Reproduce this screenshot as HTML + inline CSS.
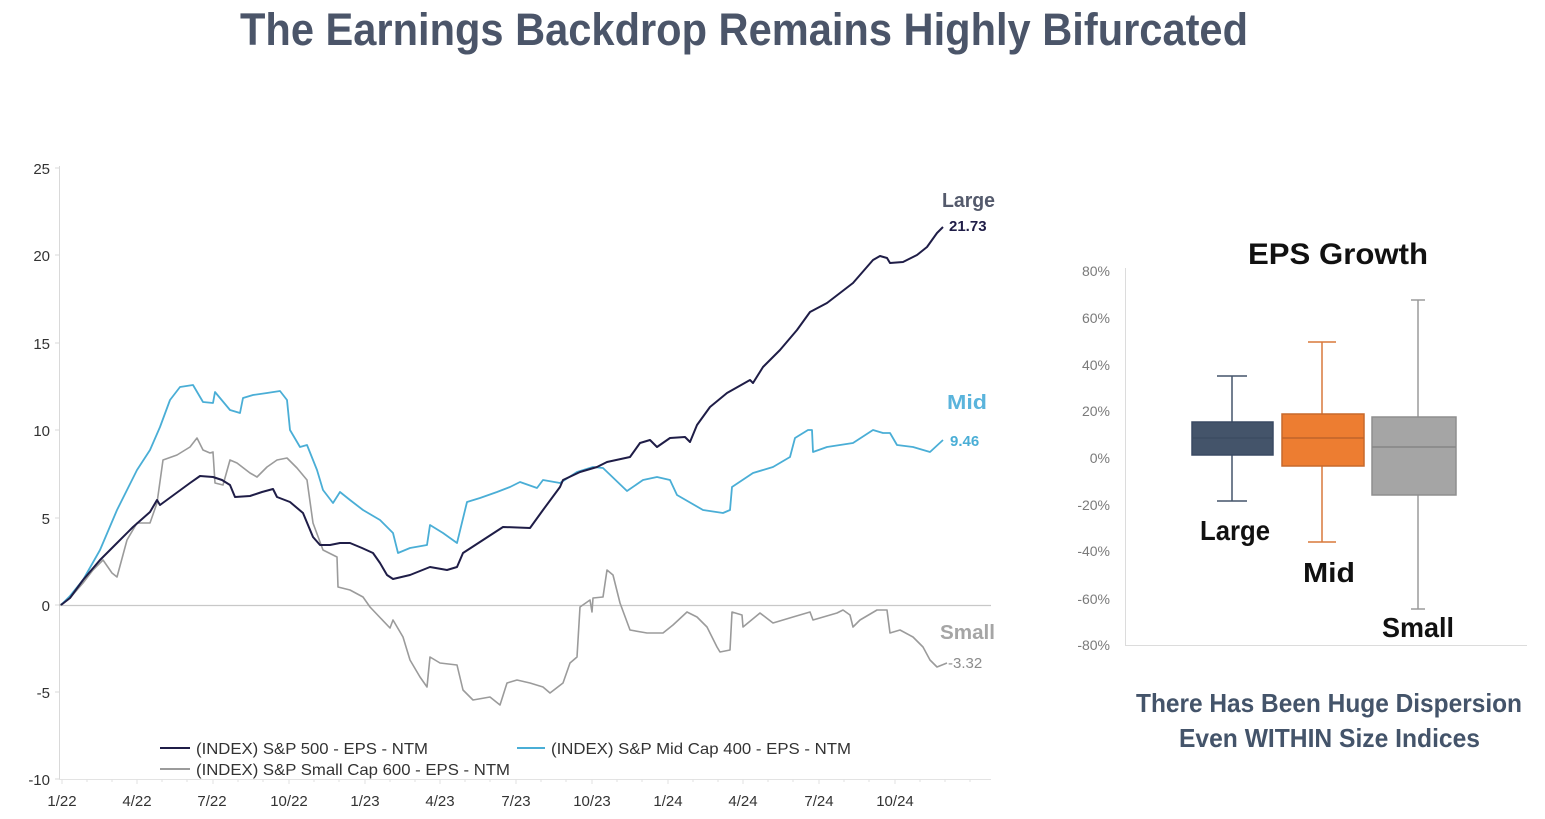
<!DOCTYPE html>
<html>
<head>
<meta charset="utf-8">
<style>
  html,body{margin:0;padding:0;background:#fff;}
  svg{display:block;}
  text{font-family:"Liberation Sans",Arial,sans-serif;}
</style>
</head>
<body>
<svg width="1545" height="819" viewBox="0 0 1545 819" xmlns="http://www.w3.org/2000/svg">
  <rect width="1545" height="819" fill="#fff"/>
  <!-- Title -->
  <text x="240" y="45" font-size="45" font-weight="bold" fill="#4b5569" textLength="1008" lengthAdjust="spacingAndGlyphs">The Earnings Backdrop Remains Highly Bifurcated</text>

  <!-- LEFT CHART -->
  <g>
    <line x1="59.5" y1="166" x2="59.5" y2="779" stroke="#d9d9d9" stroke-width="1"/>
    <line x1="59" y1="779.5" x2="991" y2="779.5" stroke="#e3e3e3" stroke-width="1"/>
    <line x1="59" y1="605.5" x2="991" y2="605.5" stroke="#c8c8c8" stroke-width="1.2"/>
    <!-- y tick marks -->
    <g stroke="#d9d9d9" stroke-width="1">
      <line x1="55" y1="168" x2="59" y2="168"/><line x1="55" y1="255" x2="59" y2="255"/>
      <line x1="55" y1="343" x2="59" y2="343"/><line x1="55" y1="430" x2="59" y2="430"/>
      <line x1="55" y1="518" x2="59" y2="518"/><line x1="55" y1="605" x2="59" y2="605"/>
      <line x1="55" y1="692" x2="59" y2="692"/><line x1="55" y1="779" x2="59" y2="779"/>
    </g>
    <!-- x tick marks -->
    <g stroke="#e0e0e0" stroke-width="1">
      <line x1="62" y1="779" x2="62" y2="784"/><line x1="87" y1="779" x2="87" y2="782"/><line x1="112" y1="779" x2="112" y2="782"/>
      <line x1="137" y1="779" x2="137" y2="784"/><line x1="162" y1="779" x2="162" y2="782"/><line x1="187" y1="779" x2="187" y2="782"/>
      <line x1="213" y1="779" x2="213" y2="784"/><line x1="238" y1="779" x2="238" y2="782"/><line x1="263" y1="779" x2="263" y2="782"/>
      <line x1="289" y1="779" x2="289" y2="784"/><line x1="314" y1="779" x2="314" y2="782"/><line x1="339" y1="779" x2="339" y2="782"/>
      <line x1="365" y1="779" x2="365" y2="784"/><line x1="390" y1="779" x2="390" y2="782"/><line x1="415" y1="779" x2="415" y2="782"/>
      <line x1="440" y1="779" x2="440" y2="784"/><line x1="465" y1="779" x2="465" y2="782"/><line x1="490" y1="779" x2="490" y2="782"/>
      <line x1="516" y1="779" x2="516" y2="784"/><line x1="541" y1="779" x2="541" y2="782"/><line x1="566" y1="779" x2="566" y2="782"/>
      <line x1="592" y1="779" x2="592" y2="784"/><line x1="617" y1="779" x2="617" y2="782"/><line x1="642" y1="779" x2="642" y2="782"/>
      <line x1="668" y1="779" x2="668" y2="784"/><line x1="693" y1="779" x2="693" y2="782"/><line x1="718" y1="779" x2="718" y2="782"/>
      <line x1="743" y1="779" x2="743" y2="784"/><line x1="768" y1="779" x2="768" y2="782"/><line x1="793" y1="779" x2="793" y2="782"/>
      <line x1="819" y1="779" x2="819" y2="784"/><line x1="844" y1="779" x2="844" y2="782"/><line x1="869" y1="779" x2="869" y2="782"/>
      <line x1="895" y1="779" x2="895" y2="784"/><line x1="920" y1="779" x2="920" y2="782"/><line x1="945" y1="779" x2="945" y2="782"/>
      <line x1="970" y1="779" x2="970" y2="782"/>
    </g>
    <!-- y labels -->
    <g font-size="15" fill="#333" text-anchor="end">
      <text x="50" y="174">25</text>
      <text x="50" y="261">20</text>
      <text x="50" y="349">15</text>
      <text x="50" y="436">10</text>
      <text x="50" y="524">5</text>
      <text x="50" y="611">0</text>
      <text x="50" y="698">-5</text>
      <text x="50" y="785">-10</text>
    </g>
    <!-- x labels -->
    <g font-size="15" fill="#333" text-anchor="middle">
      <text x="62" y="806">1/22</text>
      <text x="137" y="806">4/22</text>
      <text x="212" y="806">7/22</text>
      <text x="289" y="806">10/22</text>
      <text x="365" y="806">1/23</text>
      <text x="440" y="806">4/23</text>
      <text x="516" y="806">7/23</text>
      <text x="592" y="806">10/23</text>
      <text x="668" y="806">1/24</text>
      <text x="743" y="806">4/24</text>
      <text x="819" y="806">7/24</text>
      <text x="895" y="806">10/24</text>
    </g>

    <!-- Small series -->
    <polyline fill="none" stroke="#9b9b9b" stroke-width="1.6" stroke-linejoin="round" points="60,605 70,598 83,583 93,570 103,560 112,573 117,577 127,540 137,523 150,523 157,503 163,460 177,455 190,447 197,438 203,450 210,453 213,452 215,483 223,485 230,460 237,463 250,473 257,477 267,467 277,460 287,458 297,468 307,480 313,523 323,550 337,557 338,587 350,590 363,597 370,607 390,628 393,620 403,637 410,660 420,677 427,687 430,657 440,663 457,665 463,690 473,700 490,697 500,705 507,683 517,680 530,683 543,687 550,693 563,683 570,663 577,657 580,607 590,600 592,612 593,598 603,597 607,570 613,575 620,603 630,630 647,633 663,633 673,625 687,612 697,617 707,627 717,647 720,652 730,650 732,612 742,615 743,627 760,613 773,623 793,617 810,612 813,620 837,613 843,610 850,615 853,627 860,620 877,610 887,610 890,633 900,630 913,637 923,647 930,660 937,667 947,663"/>
    <!-- Mid series -->
    <polyline fill="none" stroke="#4aaed6" stroke-width="1.8" stroke-linejoin="round" points="61,605 70,596 83,580 100,550 117,510 137,470 150,450 160,427 170,400 180,387 193,385 203,402 213,403 215,392 230,410 240,413 243,398 253,395 267,393 280,391 287,400 290,430 300,447 307,445 317,470 323,490 333,503 340,492 350,500 363,510 380,520 393,533 398,553 410,548 427,545 430,525 443,533 457,543 467,502 480,498 497,492 510,487 520,482 537,488 543,480 560,483 577,472 593,467 603,468 627,491 643,480 657,477 670,480 677,495 703,510 723,513 730,510 732,487 753,473 773,467 790,457 795,438 808,430 812,430 813,452 827,447 853,443 873,430 883,433 890,433 897,445 913,447 930,452 943,440"/>
    <!-- Large series -->
    <polyline fill="none" stroke="#1f1d47" stroke-width="2" stroke-linejoin="round" points="61,605 70,598 83,580 100,560 117,543 133,527 150,512 157,500 160,505 175,494 190,483 200,476 213,477 222,480 230,485 235,497 250,496 262,492 273,489 277,497 290,502 303,513 313,537 320,545 330,545 340,543 350,543 362,548 373,553 380,563 387,575 393,579 410,575 430,567 447,570 457,567 463,553 483,540 503,527 530,528 543,510 560,487 563,480 580,472 597,467 607,462 630,457 640,443 650,440 657,447 670,438 685,437 690,442 697,425 710,407 727,393 750,380 753,383 763,367 780,350 797,330 810,312 827,303 853,283 873,260 880,256 887,258 890,263 903,262 917,255 927,247 937,233 943,227"/>

    <!-- end labels -->
    <text x="942" y="207" font-size="20" font-weight="bold" fill="#545a6c" textLength="53" lengthAdjust="spacingAndGlyphs">Large</text>
    <text x="949" y="231" font-size="15" font-weight="bold" fill="#1f1d47">21.73</text>
    <text x="947" y="409" font-size="20" font-weight="bold" fill="#5ab4dc" textLength="40" lengthAdjust="spacingAndGlyphs">Mid</text>
    <text x="950" y="446" font-size="15" font-weight="bold" fill="#4aaed6">9.46</text>
    <text x="940" y="639" font-size="20" font-weight="bold" fill="#a5a5a5" textLength="55" lengthAdjust="spacingAndGlyphs">Small</text>
    <text x="948" y="668" font-size="15" fill="#8c8c8c">-3.32</text>

    <!-- legend -->
    <line x1="160" y1="748" x2="190" y2="748" stroke="#1f1d47" stroke-width="2"/>
    <text x="196" y="754" font-size="16" fill="#333" textLength="232" lengthAdjust="spacingAndGlyphs">(INDEX) S&amp;P 500 - EPS - NTM</text>
    <line x1="517" y1="748" x2="545" y2="748" stroke="#4aaed6" stroke-width="2"/>
    <text x="551" y="754" font-size="16" fill="#333" textLength="300" lengthAdjust="spacingAndGlyphs">(INDEX) S&amp;P Mid Cap 400 - EPS - NTM</text>
    <line x1="160" y1="769" x2="190" y2="769" stroke="#9b9b9b" stroke-width="2"/>
    <text x="196" y="775" font-size="16" fill="#333" textLength="314" lengthAdjust="spacingAndGlyphs">(INDEX) S&amp;P Small Cap 600 - EPS - NTM</text>
  </g>

  <!-- RIGHT CHART -->
  <g>
    <text x="1248" y="264" font-size="30" font-weight="bold" fill="#111" textLength="180" lengthAdjust="spacingAndGlyphs">EPS Growth</text>
    <line x1="1125.5" y1="268" x2="1125.5" y2="645" stroke="#dcdcdc" stroke-width="1"/>
    <line x1="1125" y1="645.5" x2="1527" y2="645.5" stroke="#dcdcdc" stroke-width="1"/>
    <g font-size="14" fill="#7a7a7a" text-anchor="end">
      <text x="1110" y="276">80%</text>
      <text x="1110" y="323">60%</text>
      <text x="1110" y="370">40%</text>
      <text x="1110" y="416">20%</text>
      <text x="1110" y="463">0%</text>
      <text x="1110" y="510">-20%</text>
      <text x="1110" y="556">-40%</text>
      <text x="1110" y="604">-60%</text>
      <text x="1110" y="650">-80%</text>
    </g>
    <!-- Large box -->
    <g stroke="#44546a" stroke-width="1.5">
      <line x1="1232" y1="376" x2="1232" y2="422"/>
      <line x1="1232" y1="455" x2="1232" y2="501"/>
      <line x1="1217" y1="376" x2="1247" y2="376"/>
      <line x1="1217" y1="501" x2="1247" y2="501"/>
      <rect x="1192" y="422" width="81" height="33" fill="#44546a" stroke="#3a4a63"/>
      <line x1="1192" y1="438" x2="1273" y2="438" stroke="#3d4c62"/>
    </g>
    <!-- Mid box -->
    <g stroke="#d9783a" stroke-width="1.5">
      <line x1="1322" y1="342" x2="1322" y2="414"/>
      <line x1="1322" y1="466" x2="1322" y2="542"/>
      <line x1="1308" y1="342" x2="1336" y2="342"/>
      <line x1="1308" y1="542" x2="1336" y2="542"/>
      <rect x="1282" y="414" width="82" height="52" fill="#ed7d31" stroke="#c7692c"/>
      <line x1="1282" y1="438" x2="1364" y2="438" stroke="#c0642a"/>
    </g>
    <!-- Small box -->
    <g stroke="#9a9a9a" stroke-width="1.5">
      <line x1="1418" y1="300" x2="1418" y2="417"/>
      <line x1="1418" y1="495" x2="1418" y2="609"/>
      <line x1="1411" y1="300" x2="1425" y2="300"/>
      <line x1="1411" y1="609" x2="1425" y2="609"/>
      <rect x="1372" y="417" width="84" height="78" fill="#a5a5a5" stroke="#8f8f8f"/>
      <line x1="1372" y1="447" x2="1456" y2="447" stroke="#858585"/>
    </g>
    <text x="1200" y="540" font-size="28" font-weight="bold" fill="#111" textLength="70" lengthAdjust="spacingAndGlyphs">Large</text>
    <text x="1303" y="582" font-size="28" font-weight="bold" fill="#111" textLength="52" lengthAdjust="spacingAndGlyphs">Mid</text>
    <text x="1382" y="637" font-size="28" font-weight="bold" fill="#111" textLength="72" lengthAdjust="spacingAndGlyphs">Small</text>

    <text x="1136" y="712" font-size="26" font-weight="bold" fill="#44546a" textLength="386" lengthAdjust="spacingAndGlyphs">There Has Been Huge Dispersion</text>
    <text x="1179" y="747" font-size="26" font-weight="bold" fill="#44546a" textLength="301" lengthAdjust="spacingAndGlyphs">Even WITHIN Size Indices</text>
  </g>
</svg>
</body>
</html>
